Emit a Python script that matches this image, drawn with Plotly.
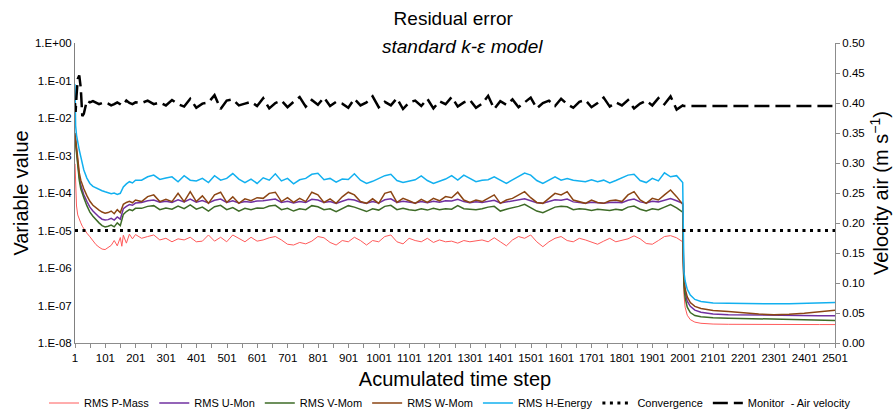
import plotly.graph_objects as go

# ---------------- data ----------------
STEPS = ([1, 3, 6, 10, 15, 20, 25, 30, 40, 50, 60, 70, 80, 90, 100, 110, 120, 130, 140, 150,
          155, 160, 170, 180, 190, 200]
         + list(range(220, 2001, 20))
         + [2002, 2004, 2008, 2015, 2025, 2040, 2060, 2080, 2100, 2150, 2200, 2250, 2300,
            2350, 2400, 2450, 2501])

RMS_P_MASS = [
    6e-4, 1.2e-4, 4.5e-5, 2.6e-5, 1.9e-5, 1.6e-5, 1.3e-5, 1.1e-5, 8.5e-6, 6.8e-6, 5.2e-6, 4.2e-6, 3.6e-6,
    3.2e-6, 3.1e-6, 3.5e-6, 4.0e-6, 5.4e-6, 3.9e-6, 6.5e-6, 3.8e-6, 7.5e-6, 4.6e-6, 8.0e-6, 6.0e-6, 7.8e-6,
    6.2e-6, 6.9e-6, 7.6e-6, 5.6e-6, 6.2e-6, 5.0e-6, 6.0e-6, 5.6e-6, 6.6e-6, 5.0e-6,
    5.2e-6, 7.6e-6, 5.2e-6, 6.6e-6, 5.0e-6, 7.6e-6, 6.0e-6, 5.0e-6, 6.6e-6, 5.2e-6,
    5.6e-6, 6.4e-6, 6.9e-6, 5.6e-6, 4.3e-6, 4.1e-6, 4.8e-6, 4.4e-6, 5.2e-6, 6.9e-6,
    6.4e-6, 4.8e-6, 4.1e-6, 5.4e-6, 5.0e-6, 6.6e-6, 5.4e-6, 4.1e-6, 5.4e-6, 5.0e-6,
    6.9e-6, 7.6e-6, 5.0e-6, 4.4e-6, 6.2e-6, 5.4e-6, 5.0e-6, 6.2e-6, 4.8e-6, 5.6e-6,
    5.0e-6, 5.2e-6, 4.6e-6, 5.4e-6, 5.0e-6, 5.3e-6, 5.6e-6, 5.0e-6, 6.4e-6, 5.0e-6,
    3.9e-6, 5.6e-6, 6.9e-6, 6.2e-6, 7.6e-6, 5.0e-6, 3.7e-6, 5.0e-6, 6.2e-6, 6.9e-6,
    5.4e-6, 5.0e-6, 6.2e-6, 5.6e-6, 5.0e-6, 4.3e-6, 5.2e-6, 6.2e-6, 5.0e-6, 5.6e-6,
    6.0e-6, 7.2e-6, 6.0e-6, 4.5e-6, 4.3e-6, 5.4e-6, 6.9e-6, 7.3e-6, 6.4e-6, 5.0e-6,
    6.0e-7, 2.0e-7, 9.0e-8, 5.5e-8, 4.2e-8, 3.6e-8, 3.35e-8, 3.25e-8, 3.2e-8, 3.15e-8, 3.12e-8,
    3.1e-8, 3.1e-8, 3.1e-8, 3.1e-8, 3.1e-8, 3.1e-8]

RMS_U_MON = [
    3.5e-3, 2.4e-3, 1.2e-3, 5.5e-4, 2.7e-4, 1.6e-4, 1.15e-4, 9e-5, 6.0e-5, 4.2e-5, 3.3e-5, 2.7e-5, 2.3e-5,
    2.0e-5, 1.9e-5, 1.95e-5, 2.1e-5, 1.9e-5, 2.3e-5, 2.0e-5, 2.8e-5, 3.8e-5, 4.4e-5, 4.9e-5, 4.7e-5, 5.4e-5,
    5.6e-5, 6.2e-5, 6.5e-5, 5.7e-5, 6.0e-5, 5.6e-5, 6.6e-5, 5.8e-5, 6.9e-5, 5.7e-5,
    6.3e-5, 5.4e-5, 6.4e-5, 6.9e-5, 5.6e-5, 6.2e-5, 5.4e-5, 5.9e-5, 5.7e-5, 6.1e-5,
    6.2e-5, 6.6e-5, 6.9e-5, 5.6e-5, 6.0e-5, 5.4e-5, 5.9e-5, 5.6e-5, 6.8e-5, 6.5e-5,
    5.6e-5, 5.9e-5, 5.3e-5, 6.0e-5, 6.8e-5, 6.5e-5, 5.7e-5, 5.3e-5, 5.9e-5, 5.4e-5,
    6.6e-5, 7.0e-5, 5.6e-5, 6.0e-5, 5.7e-5, 5.4e-5, 5.9e-5, 5.5e-5, 6.0e-5, 5.7e-5,
    6.2e-5, 6.1e-5, 6.8e-5, 5.9e-5, 5.5e-5, 5.8e-5, 5.6e-5, 6.0e-5, 6.4e-5, 5.4e-5,
    5.8e-5, 6.0e-5, 6.4e-5, 7.0e-5, 6.2e-5, 5.5e-5, 5.3e-5, 5.9e-5, 6.6e-5, 6.4e-5,
    6.9e-5, 5.8e-5, 5.6e-5, 5.3e-5, 5.7e-5, 5.4e-5, 5.3e-5, 5.6e-5, 5.7e-5, 5.5e-5,
    6.4e-5, 6.9e-5, 5.8e-5, 5.4e-5, 6.0e-5, 5.8e-5, 6.5e-5, 7.1e-5, 6.2e-5, 5.3e-5,
    2.0e-6, 4.5e-7, 2.2e-7, 1.3e-7, 9.5e-8, 7.5e-8, 6.6e-8, 6.2e-8, 5.9e-8, 5.7e-8, 5.6e-8,
    5.5e-8, 5.45e-8, 5.4e-8, 5.35e-8, 5.3e-8, 5.3e-8]

RMS_V_MOM = [
    3.0e-3, 2.0e-3, 1.0e-3, 4.5e-4, 2.2e-4, 1.3e-4, 9.5e-5, 7.5e-5, 4.6e-5, 3.1e-5, 2.4e-5, 1.9e-5, 1.6e-5,
    1.35e-5, 1.25e-5, 1.3e-5, 1.4e-5, 1.25e-5, 1.6e-5, 1.35e-5, 1.9e-5, 2.7e-5, 3.2e-5, 3.6e-5, 3.4e-5, 3.9e-5,
    3.9e-5, 4.4e-5, 4.6e-5, 3.6e-5, 4.0e-5, 3.7e-5, 4.5e-5, 3.8e-5, 4.8e-5, 3.7e-5,
    4.2e-5, 3.3e-5, 4.3e-5, 4.7e-5, 3.6e-5, 4.1e-5, 3.3e-5, 3.9e-5, 3.6e-5, 4.0e-5,
    3.9e-5, 4.5e-5, 4.7e-5, 3.6e-5, 3.9e-5, 3.3e-5, 3.8e-5, 3.6e-5, 4.6e-5, 4.3e-5,
    3.6e-5, 3.8e-5, 3.2e-5, 3.8e-5, 4.6e-5, 4.2e-5, 3.6e-5, 3.2e-5, 3.8e-5, 3.5e-5,
    4.4e-5, 4.7e-5, 3.6e-5, 3.9e-5, 3.6e-5, 3.4e-5, 3.8e-5, 3.5e-5, 3.9e-5, 3.6e-5,
    3.8e-5, 3.7e-5, 4.6e-5, 3.8e-5, 3.7e-5, 3.6e-5, 3.8e-5, 4.2e-5, 4.4e-5, 3.3e-5,
    3.7e-5, 4.0e-5, 4.4e-5, 5.0e-5, 4.0e-5, 3.3e-5, 3.0e-5, 3.6e-5, 4.2e-5, 4.4e-5,
    4.3e-5, 3.6e-5, 3.8e-5, 3.7e-5, 3.4e-5, 3.7e-5, 3.5e-5, 3.4e-5, 3.7e-5, 3.5e-5,
    4.2e-5, 4.5e-5, 3.7e-5, 3.3e-5, 3.8e-5, 3.6e-5, 4.2e-5, 4.9e-5, 4.0e-5, 3.1e-5,
    1.5e-6, 3.5e-7, 1.6e-7, 9.0e-8, 6.5e-8, 5.4e-8, 5.0e-8, 4.8e-8, 4.7e-8, 4.6e-8, 4.5e-8,
    4.45e-8, 4.4e-8, 4.3e-8, 4.2e-8, 4.1e-8, 4.0e-8]

RMS_W_MOM = [
    4.0e-3, 2.8e-3, 1.5e-3, 7e-4, 3.5e-4, 2.2e-4, 1.6e-4, 1.3e-4, 8.5e-5, 6.0e-5, 4.7e-5, 4.0e-5, 3.5e-5,
    3.1e-5, 2.9e-5, 3.0e-5, 3.3e-5, 2.8e-5, 3.6e-5, 3.0e-5, 4.2e-5, 5.0e-5, 5.6e-5, 6.0e-5, 5.5e-5, 6.5e-5,
    5.9e-5, 8.0e-5, 8.9e-5, 5.9e-5, 6.8e-5, 5.9e-5, 9.8e-5, 5.9e-5, 1.09e-4, 5.9e-5,
    8.4e-5, 5.3e-5, 8.9e-5, 1.05e-4, 5.6e-5, 7.9e-5, 5.3e-5, 7.0e-5, 6.2e-5, 7.5e-5,
    7.2e-5, 9.8e-5, 1.05e-4, 5.9e-5, 7.5e-5, 5.6e-5, 7.2e-5, 5.9e-5, 1.05e-4, 8.9e-5,
    5.6e-5, 7.0e-5, 5.3e-5, 7.9e-5, 1.05e-4, 8.9e-5, 5.9e-5, 5.3e-5, 7.0e-5, 5.3e-5,
    9.8e-5, 1.09e-4, 5.6e-5, 7.2e-5, 6.2e-5, 5.3e-5, 6.8e-5, 5.6e-5, 7.2e-5, 6.2e-5,
    8.0e-5, 7.5e-5, 1.05e-4, 6.5e-5, 5.6e-5, 6.5e-5, 5.9e-5, 7.2e-5, 8.9e-5, 5.3e-5,
    6.5e-5, 7.2e-5, 8.9e-5, 1.09e-4, 7.5e-5, 5.6e-5, 5.3e-5, 7.2e-5, 9.8e-5, 8.9e-5,
    1.09e-4, 6.5e-5, 5.9e-5, 5.3e-5, 6.5e-5, 5.6e-5, 5.3e-5, 6.2e-5, 6.5e-5, 5.9e-5,
    8.9e-5, 1.09e-4, 6.5e-5, 5.3e-5, 7.2e-5, 6.5e-5, 8.9e-5, 1.2e-4, 8.0e-5, 5.0e-5,
    3.0e-6, 6.0e-7, 2.8e-7, 1.7e-7, 1.2e-7, 9.5e-8, 8.3e-8, 7.8e-8, 7.4e-8, 6.9e-8, 6.3e-8,
    5.9e-8, 5.7e-8, 5.8e-8, 6.2e-8, 6.8e-8, 7.5e-8]

RMS_H_ENERGY = [
    7.9e-2, 6.3e-3, 3.5e-3, 2.1e-3, 1.4e-3, 9.3e-4, 6.0e-4, 4.1e-4, 2.5e-4, 1.8e-4, 1.5e-4, 1.35e-4, 1.23e-4,
    1.15e-4, 1.08e-4, 1.02e-4, 9.6e-5, 1.0e-4, 9.2e-5, 9.8e-5, 1.15e-4, 1.45e-4, 1.75e-4, 2.0e-4, 1.85e-4, 2.2e-4,
    2.2e-4, 2.7e-4, 3.0e-4, 2.3e-4, 2.5e-4, 2.7e-4, 2.0e-4, 2.9e-4, 2.2e-4, 2.1e-4,
    2.45e-4, 1.9e-4, 2.9e-4, 2.2e-4, 2.45e-4, 3.3e-4, 2.35e-4, 1.9e-4, 2.35e-4, 1.8e-4,
    2.55e-4, 2.2e-4, 3.25e-4, 2.1e-4, 2.45e-4, 1.75e-4, 2.25e-4, 2.45e-4, 3.15e-4, 3.35e-4,
    2.25e-4, 2.45e-4, 1.95e-4, 2.35e-4, 2.3e-4, 3.25e-4, 2.2e-4, 1.8e-4, 2.05e-4, 2.45e-4,
    2.9e-4, 3.15e-4, 2.15e-4, 1.9e-4, 2.1e-4, 2.25e-4, 2.85e-4, 2.15e-4, 1.8e-4, 2.05e-4,
    2.35e-4, 2.9e-4, 2.2e-4, 3.0e-4, 2.4e-4, 2.0e-4, 2.2e-4, 2.25e-4, 2.7e-4, 2.2e-4,
    1.8e-4, 2.25e-4, 2.7e-4, 3.4e-4, 3.0e-4, 2.15e-4, 1.8e-4, 2.2e-4, 2.7e-4, 2.2e-4,
    2.45e-4, 2.2e-4, 2.1e-4, 2.0e-4, 2.25e-4, 2.0e-4, 2.2e-4, 1.85e-4, 2.15e-4, 2.55e-4,
    3.0e-4, 3.15e-4, 2.15e-4, 1.9e-4, 2.45e-4, 2.1e-4, 3.45e-4, 2.7e-4, 2.9e-4, 1.9e-4,
    1.5e-6, 8.0e-7, 4.5e-7, 2.7e-7, 1.9e-7, 1.45e-7, 1.28e-7, 1.2e-7, 1.17e-7, 1.14e-7, 1.12e-7,
    1.11e-7, 1.11e-7, 1.12e-7, 1.13e-7, 1.15e-7, 1.2e-7]

MONITOR_AIR_VELOCITY = [
    0.400, 0.385, 0.412, 0.440, 0.446, 0.425, 0.378, 0.382, 0.404, 0.401, 0.403, 0.401, 0.398,
    0.400, 0.401, 0.399, 0.396, 0.398, 0.401, 0.398, 0.396, 0.397, 0.404, 0.400, 0.398, 0.401,
    0.400, 0.404, 0.398, 0.401, 0.396, 0.405, 0.398, 0.394, 0.407, 0.392,
    0.399, 0.401, 0.413, 0.390, 0.404, 0.406, 0.396, 0.399, 0.402, 0.395,
    0.408, 0.391, 0.400, 0.404, 0.393, 0.402, 0.410, 0.394, 0.405, 0.397,
    0.409, 0.395, 0.402, 0.399, 0.392, 0.407, 0.396, 0.401, 0.411, 0.393,
    0.402, 0.396, 0.408, 0.390, 0.401, 0.404, 0.395, 0.407, 0.391, 0.403,
    0.398, 0.410, 0.394, 0.401, 0.405, 0.392, 0.399, 0.412, 0.390, 0.403,
    0.397, 0.406, 0.393, 0.401, 0.409, 0.391, 0.400, 0.404, 0.395, 0.407,
    0.398, 0.392, 0.402, 0.405, 0.393, 0.400, 0.409, 0.394, 0.401, 0.396,
    0.405, 0.391, 0.399, 0.404, 0.396, 0.408, 0.398, 0.411, 0.389, 0.396,
    0.395, 0.395, 0.395, 0.395, 0.395, 0.395, 0.395, 0.395, 0.395, 0.395, 0.395,
    0.395, 0.395, 0.395, 0.395, 0.395, 0.395]

CONVERGENCE_STEPS = [1, 2501]
CONVERGENCE = [1e-5, 1e-5]

X_TICKS = list(range(1, 2502, 50))
X_TICKTEXT = [str(v) if (v - 1) % 100 == 0 else "" for v in X_TICKS]
Y_TICKS = [1e0, 1e-1, 1e-2, 1e-3, 1e-4, 1e-5, 1e-6, 1e-7, 1e-8]
Y_TICKTEXT = ["1.E+00", "1.E-01", "1.E-02", "1.E-03", "1.E-04", "1.E-05", "1.E-06", "1.E-07", "1.E-08"]

# ---------------- figure ----------------
FONT = "Arial, 'Liberation Sans', sans-serif"
AXIS_GREY = "#8c8c8c"

fig = go.Figure()
series = [
    ("RMS P-Mass", RMS_P_MASS, "#ff5a5a", 1.0),
    ("RMS U-Mon", RMS_U_MON, "#7030a0", 1.5),
    ("RMS V-Mom", RMS_V_MOM, "#3d6b26", 1.5),
    ("RMS W-Mom", RMS_W_MOM, "#8b4513", 1.5),
    ("RMS H-Energy", RMS_H_ENERGY, "#12b0ef", 1.5),
]
for name, vals, col, w in series:
    fig.add_trace(go.Scatter(x=STEPS, y=vals, name=name, mode="lines",
                             line=dict(color=col, width=w)))

fig.add_trace(go.Scatter(x=CONVERGENCE_STEPS, y=CONVERGENCE, name="Convergence", mode="lines",
                         line=dict(color="black", width=3, dash="3px,4.5px")))
fig.add_trace(go.Scatter(x=STEPS, y=MONITOR_AIR_VELOCITY, name="Monitor  - Air velocity",
                         mode="lines", yaxis="y2",
                         line=dict(color="black", width=2.5, dash="15px,6px")))

fig.update_layout(
    width=894, height=412,
    margin=dict(l=75, r=59, t=43, b=69, autoexpand=False),
    paper_bgcolor="white", plot_bgcolor="white",
    font=dict(family=FONT, color="#000000", size=12),
    title=dict(text="Residual error", x=0.507, xanchor="center", y=1 - 18 / 412,
               yanchor="middle", font=dict(size=19, family=FONT, color="#000")),
    annotations=[dict(text="<i>standard k-ε model</i>", xref="paper", yref="paper",
                      x=(462 - 75) / 760, y=1 - 4 / 300, xanchor="center", yanchor="middle",
                      showarrow=False, font=dict(size=19, family=FONT, color="#000"))],
    showlegend=True,
    legend=dict(orientation="h", x=(856 - 75) / 760, xanchor="right", y=-0.2, yanchor="middle",
                font=dict(size=11, family=FONT), bgcolor="rgba(0,0,0,0)",
                itemwidth=30, tracegroupgap=0, borderwidth=0),
    xaxis=dict(range=[1, 2501], tickvals=X_TICKS, ticktext=X_TICKTEXT, tickangle=0,
               ticks="outside", ticklen=4, tickcolor=AXIS_GREY, showline=True,
               linecolor=AXIS_GREY, linewidth=1, showgrid=False, zeroline=False,
               tickfont=dict(size=11.5), automargin=False,
               title=dict(text="Acumulated time step", font=dict(size=20), standoff=9)),
    yaxis=dict(type="log", range=[-8, 0], tickvals=Y_TICKS, ticktext=Y_TICKTEXT,
               ticks="", showline=True, linecolor="#808080", linewidth=1, showgrid=False,
               zeroline=False, tickfont=dict(size=11.5), automargin=False,
               title=dict(text="Variable value", font=dict(size=20), standoff=0)),
    yaxis2=dict(overlaying="y", side="right", range=[0, 0.5], dtick=0.05, tick0=0,
                tickformat=".2f", ticks="outside", ticklen=4, tickcolor=AXIS_GREY,
                showline=True, linecolor=AXIS_GREY, linewidth=1, showgrid=False,
                zeroline=False, tickfont=dict(size=11.5), automargin=False,
                title=dict(text="Velocity air (m s<sup>−1</sup>)", font=dict(size=20), standoff=10)),
)

fig.write_html("out.html")
